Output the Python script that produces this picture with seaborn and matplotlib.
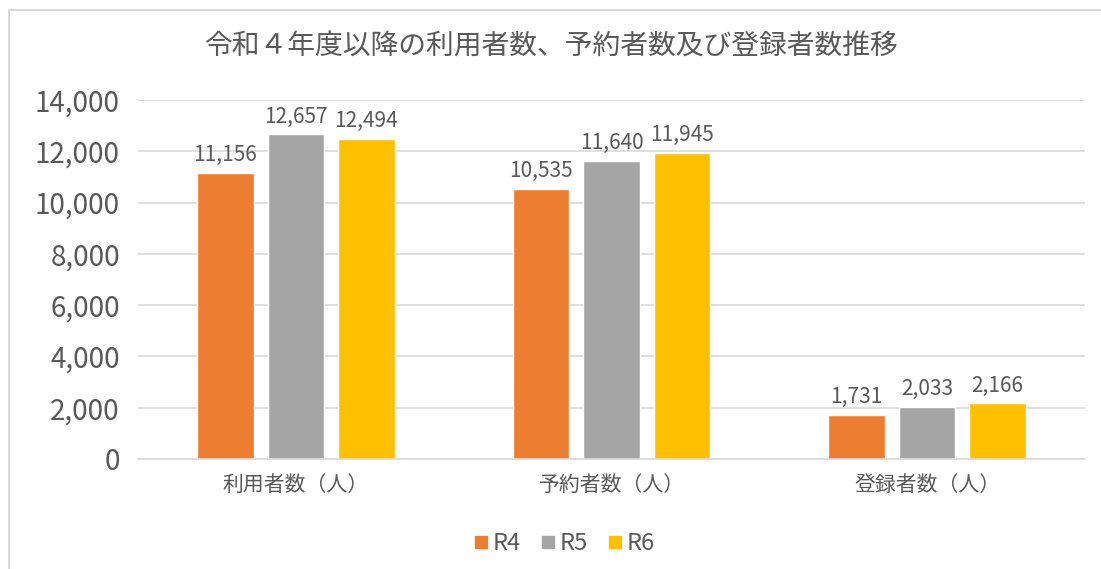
import numpy as np
import pandas as pd
import matplotlib.pyplot as plt
import seaborn as sns
from matplotlib.patches import Rectangle
from matplotlib.lines import Line2D
from matplotlib.ticker import FuncFormatter, FixedLocator

# ── data ──
categories = ["利用者数（人）", "予約者数（人）", "登録者数（人）"]
years = ["R4", "R5", "R6"]
r4_values = [11156, 10535, 1731]
r5_values = [12657, 11640, 2033]
r6_values = [12494, 11945, 2166]
colors = ["#ED7D31", "#A5A5A5", "#FFC000"]

df = pd.DataFrame({
    "category": categories * 3,
    "year": np.repeat(years, 3),
    "value": r4_values + r5_values + r6_values,
})

# ── style ──
sns.set_style("white")
plt.rcParams["font.family"] = ["Noto Sans CJK JP", "DejaVu Sans"]
TEXT = "#595959"
GRID = "#D9D9D9"

fig = plt.figure(figsize=(11.01, 5.69), dpi=100)
ax = fig.add_axes([138 / 1101, 1 - 459 / 569, (1085 - 138) / 1101, (459 - 100) / 569])

sns.barplot(data=df, x="category", y="value", hue="year", palette=colors,
            width=0.67, gap=0.2, ax=ax, legend=False, saturation=1)

# data labels
for cont in ax.containers:
    ax.bar_label(cont, labels=[f"{v:,.0f}" for v in cont.datavalues],
                 padding=5, fontsize=15, color=TEXT)

ax.set_ylim(0, 14000)
ax.set_xlim(-0.5, 2.5)
ax.set_yticks(range(0, 14001, 2000))
ax.yaxis.set_major_formatter(FuncFormatter(lambda v, p: f"{v:,.0f}"))
ax.grid(axis="y", color=GRID, lw=1.2)
ax.set_axisbelow(True)
for s in ["top", "right", "left"]:
    ax.spines[s].set_visible(False)
ax.spines["bottom"].set_color(GRID)
ax.spines["bottom"].set_linewidth(1.2)

ax.tick_params(axis="y", length=0, pad=13, labelsize=20, labelcolor=TEXT)
ax.tick_params(axis="x", which="major", length=0, pad=11, labelsize=15, labelcolor=TEXT)
ax.xaxis.set_minor_locator(FixedLocator([-0.5, 0.5, 1.5, 2.5]))
ax.tick_params(axis="x", which="minor", length=5, width=1.2, color=GRID, direction="out")
ax.set_xlabel("")
ax.set_ylabel("")

fig.text(0.5, 1 - 47 / 569, "令和４年度以降の利用者数、予約者数及び登録者数推移",
         ha="center", va="center", fontsize=20, color=TEXT)

handles = [Line2D([], [], marker="s", ls="", markersize=9, color=c) for c in colors]
fig.legend(handles, years, loc="center", bbox_to_anchor=(564 / 1101, 1 - 544 / 569),
           ncol=3, frameon=False, fontsize=17, labelcolor=TEXT,
           handletextpad=0.15, columnspacing=0.8, handlelength=0.7)

# chart border
fig.patches.append(Rectangle((9 / 1101, -0.1), 1.2, 0.1 + (569 - 10) / 569,
                             transform=fig.transFigure, fill=False,
                             edgecolor=GRID, lw=1.5))

fig.savefig("out.png", dpi=100)
